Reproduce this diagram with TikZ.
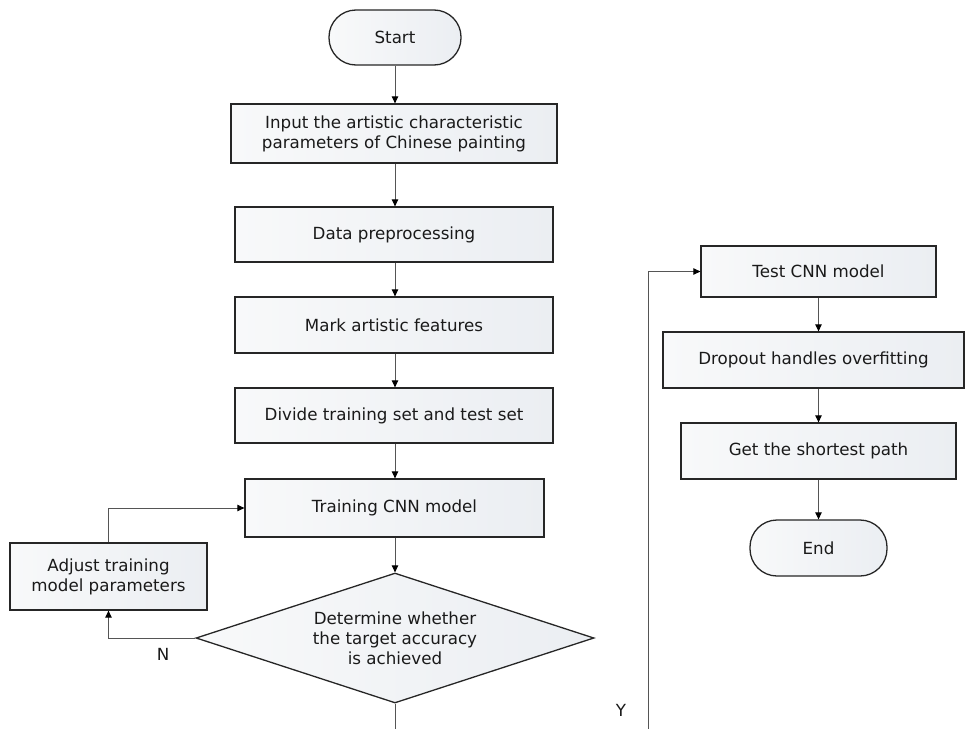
\documentclass[tikz,border=0pt]{standalone}
\usepackage{fontspec}
\setmainfont{DejaVu Sans}
\usetikzlibrary{shapes.geometric,arrows.meta}
\definecolor{boxl}{HTML}{F8F9FA}
\definecolor{boxr}{HTML}{EBEEF2}
\definecolor{txt}{HTML}{1A1A1A}
\definecolor{lnk}{HTML}{555555}
\begin{document}
\begin{tikzpicture}[x=1pt,y=-1pt,
 every node/.style={font=\fontsize{16.7}{20}\selectfont, text=txt},
 proc/.style={draw=black!85, line width=1.3pt, left color=boxl, right color=boxr, inner sep=0pt, align=center},
 term/.style={proc, rounded corners=27pt},
 dec/.style={proc, diamond, shape aspect=3},
 link/.style={draw=lnk, line width=0.9pt, -{Triangle[length=7pt,width=6.5pt,color=black]}}]
\useasboundingbox (0,0) rectangle (965,728);
\clip (0,0) rectangle (965,728);
\node[term, minimum width=132pt, minimum height=55pt] (start) at (395,37.5) {Start};
\node[proc, minimum width=326pt, minimum height=59pt] (input) at (394,133.5) {Input the artistic characteristic\\parameters of Chinese painting};
\node[proc, minimum width=318pt, minimum height=55pt] (pre) at (394,234.5) {Data preprocessing};
\node[proc, minimum width=318pt, minimum height=56pt] (mark) at (394,325) {Mark artistic features};
\node[proc, minimum width=318pt, minimum height=55pt] (div) at (394,415.5) {Divide training set and test set};
\node[proc, minimum width=299pt, minimum height=58pt] (train) at (394.5,508) {Training CNN model};
\node[dec, minimum width=398pt, minimum height=130pt] (dec) at (395,638) {Determine whether\\the target accuracy\\is achieved};
\node[proc, minimum width=197pt, minimum height=67pt] (adj) at (108.5,576.5) {Adjust training\\model parameters};
\node[proc, minimum width=235pt, minimum height=51pt] (test) at (818.5,271.5) {Test CNN model};
\node[proc, minimum width=301pt, minimum height=56pt] (drop) at (813.5,360) {Dropout handles overfitting};
\node[proc, minimum width=275pt, minimum height=56pt] (short) at (818.5,451) {Get the shortest path};
\node[term, minimum width=137pt, minimum height=56pt] (endn) at (818.5,548) {End};
\node (nlab) at (163,654) {N};
\node (ylab) at (621,710) {Y};
\coordinate (yb) at (648,760);
\draw[link] (start.south) -- (start.south |- input.north);
\draw[link] (start.south |- input.south) -- (start.south |- pre.north);
\draw[link] (start.south |- pre.south) -- (start.south |- mark.north);
\draw[link] (start.south |- mark.south) -- (start.south |- div.north);
\draw[link] (start.south |- div.south) -- (start.south |- train.north);
\draw[link] (start.south |- train.south) -- (dec.north);
\draw[link] (dec.west) -| (adj.south);
\draw[link] (adj.north) |- (train.west);
\draw[link] (dec.south) |- (yb) |- (test.west);
\draw[link] (test.south) -- (test.south |- drop.north);
\draw[link] (test.south |- drop.south) -- (short.north);
\draw[link] (short.south) -- (endn.north);
\end{tikzpicture}
\end{document}
